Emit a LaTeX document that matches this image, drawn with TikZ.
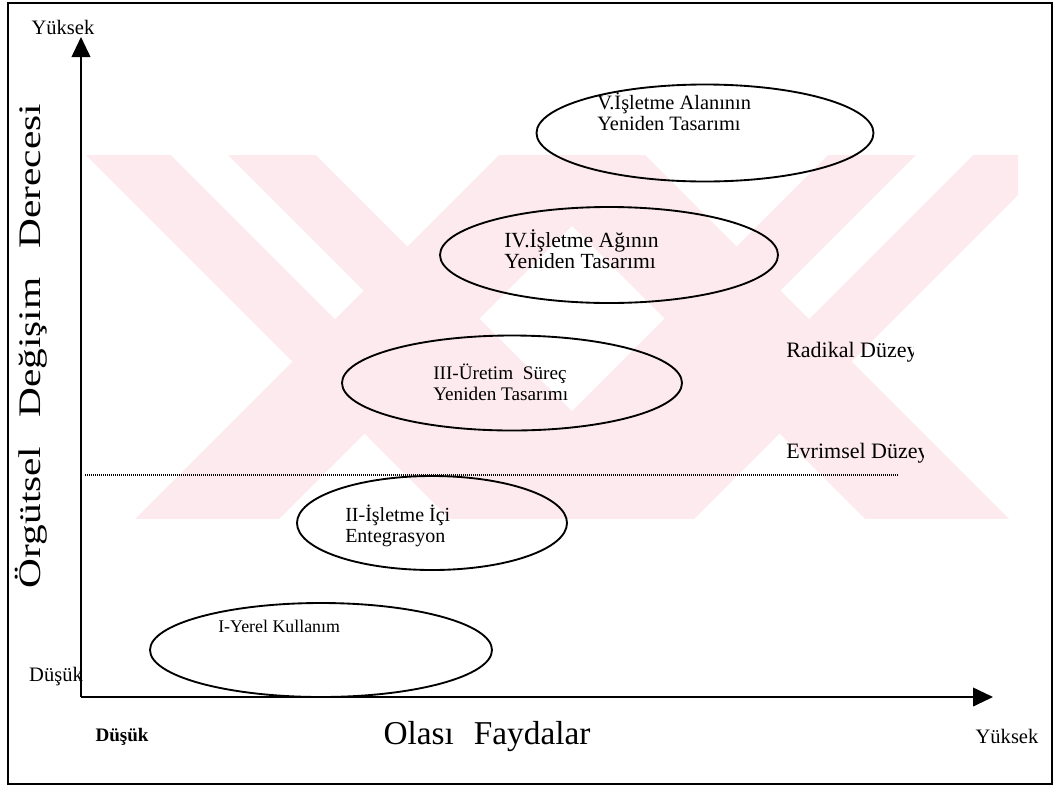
\documentclass[tikz,border=0pt]{standalone}
\usepackage{fontspec}
\setmainfont{Liberation Serif}
\usetikzlibrary{shapes.geometric,arrows.meta}
\definecolor{wm}{RGB}{253,234,238}
\begin{document}
\begin{tikzpicture}[x=0.75pt,y=-0.75pt,
  oval/.style={draw, line width=1.4pt, ellipse, inner sep=0pt},
  lbl/.style={font=\fontsize{15}{15.8}\selectfont, align=left, anchor=west, inner sep=0pt},
  axislbl/.style={font=\fontsize{15.4}{17}\selectfont, inner sep=0pt},
  axisline/.style={line width=1.4pt, -{Triangle[width=14pt,length=15pt]}},
  levellbl/.style={font=\fontsize{16.5}{18}\selectfont, anchor=west, inner sep=0pt}]
\useasboundingbox (0,0) rectangle (1056,786);
% watermark
\begin{scope}
  \clip (83,155) rectangle (1018,518);
  \fill[wm] (0,-161) -- (1100,939) -- (1100,1169) -- (0,69) -- cycle;
  \fill[wm] (0,654) -- (1100,-446) -- (1100,-302) -- (0,798) -- cycle;
  \fill[wm] (0,-490) -- (1100,610) -- (1100,754) -- (0,-346) -- cycle;
  \fill[wm] (0,983) -- (1100,-117) -- (1100,113) -- (0,1213) -- cycle;
  \fill[white] (173,100) -- (363.5,290.5) -- (335,319) -- (116,100) -- cycle;
  \fill[white] (971,100) -- (780.5,290.5) -- (809,319) -- (1028,100) -- cycle;
\end{scope}
% frame
\draw[line width=1.1pt] (8,3) rectangle (1052,784);
% axes
\coordinate (O) at (81,697);
\coordinate (ytop) at (81,37);
\coordinate (xend) at (993,697);
\draw[axisline] (O) -- (ytop);
\draw[axisline] (O) -- (xend);
% dotted boundary
\coordinate (d1) at (85,475);
\coordinate (d2) at (898,475);
\draw[line width=0.8pt, dash pattern=on 0.75pt off 0.75pt] (d1) -- (d2);
% ellipses
\node[oval, minimum width=252.75pt, minimum height=72.75pt] (e5) at (705,133) {};
\node[oval, minimum width=253.5pt, minimum height=72pt] (e4) at (609,255) {};
\node[oval, minimum width=255pt, minimum height=71.25pt] (e3) at (512,383) {};
\node[oval, minimum width=202.5pt, minimum height=70.5pt] (e2) at (432,523) {};
\node[oval, minimum width=256.5pt, minimum height=70.5pt] (e1) at (321,650) {};
% ellipse texts
\node[lbl, font=\fontsize{15.3}{16}\selectfont] (t5) at (597,112) {V.İşletme Alanının\\Yeniden Tasarımı};
\node[lbl, font=\fontsize{16.2}{16}\selectfont] (t4) at (504,249) {IV.İşletme Ağının\\Yeniden Tasarımı};
\node[lbl, font=\fontsize{14.4}{16}\selectfont] (t3) at (433,382) {III-Üretim\ \ Süreç\\Yeniden Tasarımı};
\node[lbl, font=\fontsize{15}{16.2}\selectfont] (t2) at (345,526) {II-İşletme İçi\\Entegrasyon};
\node[lbl, font=\fontsize{13.4}{15}\selectfont] (t1) at (218,626) {I-Yerel Kullanım};
% axis labels
\node[axislbl] (yhigh) at (63,27) {Yüksek};
\node[axislbl] (ylow) at (56,677) {Düşük};
\node[axislbl, font=\fontsize{14.3}{16}\selectfont\bfseries] (xlow) at (122,737) {Düşük};
\node[axislbl] (xhigh) at (1007,736) {Yüksek};
\node[inner sep=0pt, font=\fontsize{25}{27}\selectfont] (xtitle) at (487,737) {Olası\hspace{0.6em}Faydalar};
\node[inner sep=0pt, rotate=90, xscale=1.32, font=\fontsize{23.5}{25}\selectfont] (ytitle) at (31,346) {Örgütsel\hspace{0.7em}Değişim\hspace{0.7em}Derecesi};
% level labels (clipped at right as in the original)
\begin{scope}
  \clip (700,300) rectangle (913,380);
  \node[levellbl] (rad) at (786,352) {Radikal Düzey};
\end{scope}
\begin{scope}
  \clip (700,420) rectangle (923,470);
  \node[levellbl] (evr) at (786,453) {Evrimsel Düzey};
\end{scope}
\end{tikzpicture}
\end{document}
